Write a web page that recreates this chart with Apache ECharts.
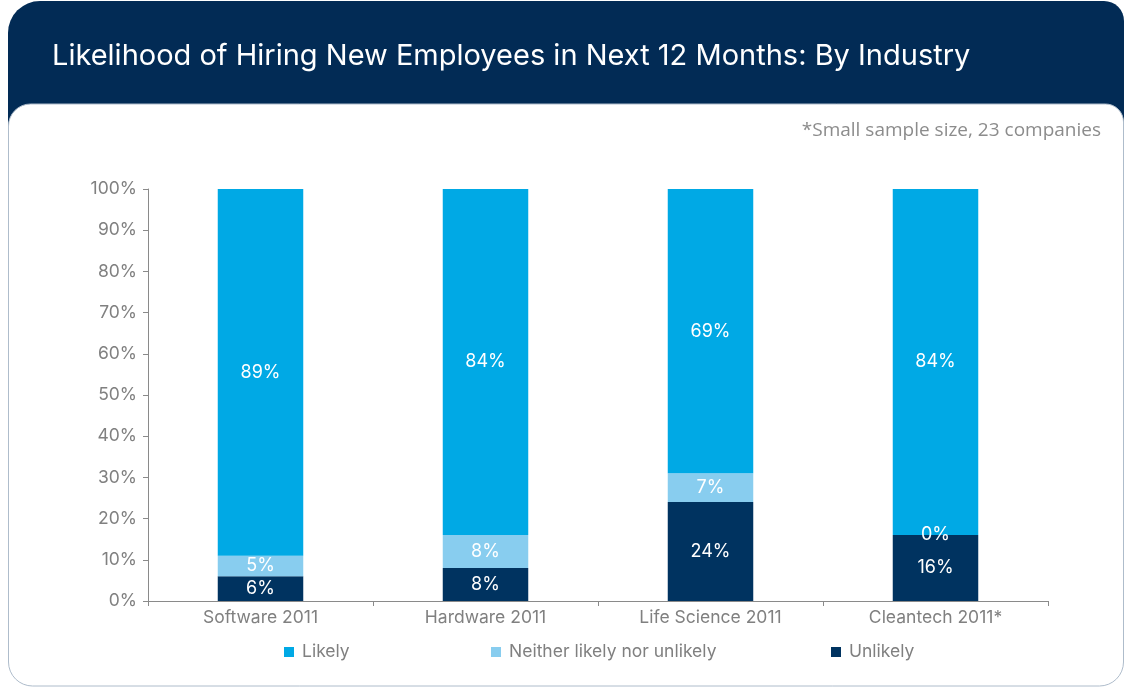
<!DOCTYPE html>
<html>
<head>
<meta charset="utf-8">
<script src="https://cdn.jsdelivr.net/npm/echarts@6/dist/echarts.min.js"></script>
<style>
  html, body { margin: 0; padding: 0; background: #ffffff; }
  #chart { width: 1124px; height: 687px; }
</style>
</head>
<body>
<div id="chart"></div>
<script>
// Survey results: share of companies by hiring likelihood, per industry
const categories = ['Software 2011', 'Hardware 2011', 'Life Science 2011', 'Cleantech 2011*'];
const unlikely = [6, 8, 24, 16];
const neither = [5, 8, 7, 0];
const likely = [89, 84, 69, 84];
const seriesNames = ['Likely', 'Neither likely nor unlikely', 'Unlikely'];

const NAVY = '#022b55';
const C_LIKELY = '#00a9e5';
const C_NEITHER = '#88cdef';
const C_UNLIKELY = '#003360';
const GREY_TEXT = '#808080';
const AXIS_GREY = '#8a8a8a';
const FONT = 'Inter, "Liberation Sans", Arial, sans-serif';

const chart = echarts.init(document.getElementById('chart'), null, { renderer: 'canvas' });

function barSeries(name, data, color) {
  return {
    name: name,
    type: 'bar',
    stack: 'total',
    data: data,
    barWidth: '38%',
    itemStyle: { color: color },
    label: {
      show: true,
      position: 'inside',
      color: '#ffffff',
      fontSize: 18,
      fontFamily: FONT,
      formatter: p => p.value + '%'
    }
  };
}

function legendAt(name, left) {
  return {
    data: [name],
    left: left,
    top: 643,
    padding: 0,
    itemWidth: 10,
    itemHeight: 10,
    icon: 'rect',
    textStyle: { color: GREY_TEXT, fontSize: 17.5, fontFamily: FONT, padding: [0, 0, 0, 3] }
  };
}

const option = {
  animation: false,
  backgroundColor: '#ffffff',
  graphic: [
    {
      type: 'rect', z: -10, silent: true,
      shape: { x: 8, y: 1, width: 1116, height: 140, r: [32, 20, 0, 0] },
      style: { fill: NAVY }
    },
    {
      type: 'rect', z: -9, silent: true,
      shape: { x: 8.5, y: 104, width: 1115, height: 582, r: [22, 18, 24, 24] },
      style: { fill: '#ffffff', stroke: '#aebccb', lineWidth: 1 }
    },
    {
      type: 'text', z: 10, silent: true,
      x: 52, y: 56,
      style: {
        text: 'Likelihood of Hiring New Employees in Next 12 Months: By Industry',
        fill: '#ffffff',
        font: '29px ' + FONT,
        verticalAlign: 'middle'
      }
    },
    {
      type: 'text', z: 10, silent: true,
      x: 1101, y: 131,
      style: {
        text: '*Small sample size, 23 companies',
        fill: '#8c8c8c',
        font: '19px "Open Sans", "Noto Sans", sans-serif',
        align: 'right',
        verticalAlign: 'middle'
      }
    }
  ],
  grid: { left: 148, right: 76, top: 189, bottom: 86 },
  legend: [
    legendAt(seriesNames[0], 284),
    legendAt(seriesNames[1], 491),
    legendAt(seriesNames[2], 831)
  ],
  xAxis: {
    type: 'category',
    data: categories,
    axisLine: { lineStyle: { color: AXIS_GREY, width: 1 } },
    axisTick: { show: true, length: 5, lineStyle: { color: AXIS_GREY } },
    axisLabel: { color: GREY_TEXT, fontSize: 17.5, fontFamily: FONT, margin: 8 }
  },
  yAxis: {
    type: 'value',
    min: 0,
    max: 100,
    interval: 10,
    splitLine: { show: false },
    axisLine: { show: true, lineStyle: { color: AXIS_GREY, width: 1 } },
    axisTick: { show: true, length: 5, lineStyle: { color: AXIS_GREY } },
    axisLabel: { color: GREY_TEXT, fontSize: 17.5, fontFamily: FONT, margin: 11, formatter: '{value}%' }
  },
  series: [
    barSeries(seriesNames[2], unlikely, C_UNLIKELY),
    barSeries(seriesNames[1], neither, C_NEITHER),
    barSeries(seriesNames[0], likely, C_LIKELY)
  ]
};

chart.setOption(option);
</script>
</body>
</html>
